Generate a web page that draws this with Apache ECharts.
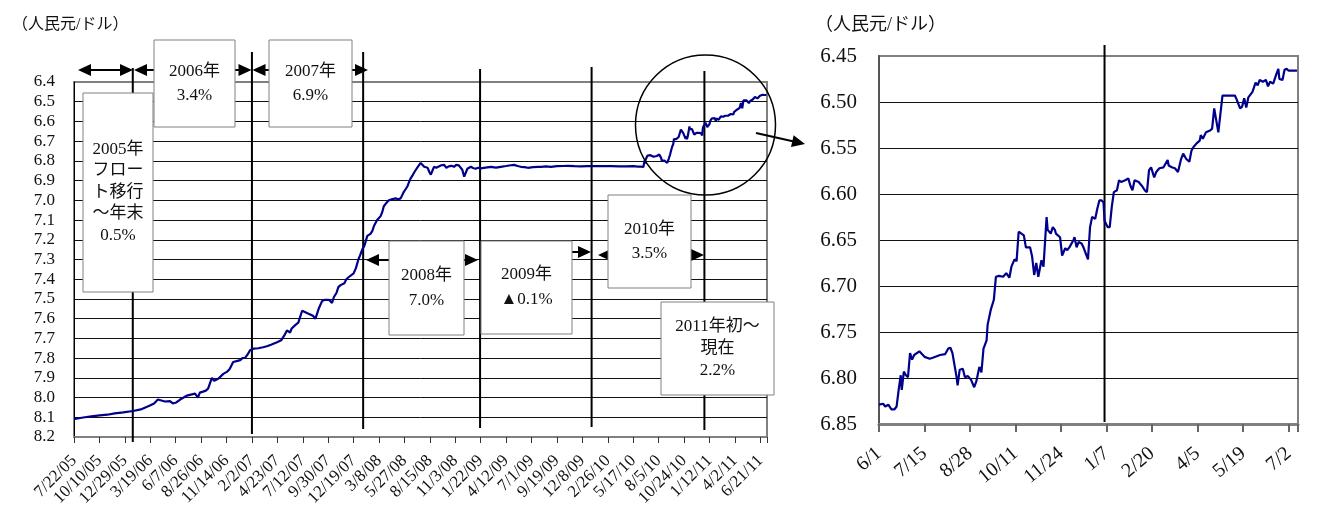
<!DOCTYPE html>
<html>
<head>
<meta charset="utf-8">
<script src="https://cdn.jsdelivr.net/npm/echarts@6/dist/echarts.min.js"></script>
<style>
html, body { margin: 0; padding: 0; background: #fff; }
#chart { width: 1327px; height: 511px; }
</style>
</head>
<body>
<div id="chart"></div>
<script>
// Axis tick labels: every 80 days from 2005-07-22 (wide) and every 44 days from 2010-06-01 (zoom)
const wideTicks = ['7/22/05','10/10/05','12/29/05','3/19/06','6/7/06','8/26/06','11/14/06','2/2/07',
  '4/23/07','7/12/07','9/30/07','12/19/07','3/8/08','5/27/08','8/15/08','11/3/08','1/22/09','4/12/09',
  '7/1/09','9/19/09','12/8/09','2/26/10','5/17/10','8/5/10','10/24/10','1/12/11','4/2/11','6/21/11'];
const zoomTicks = ['6/1','7/15','8/28','10/11','11/24','1/7','2/20','4/5','5/19','7/2'];

// Yuan per dollar, 2005-07-22 .. 2010-05-31 (days counted from 2005-07-22)
const wideDays = [0,15,34,55,81,105,128,155,186,210,239,252,264,275,286,302,311,322,334,345,355,368,381,386,390,396,
  406,415,422,434,441,447,454,460,470,481,490,501,512,523,530,539,547,554,565,580,595,607,620,639,652,662,670,675,
  680,685,690,698,706,712,718,725,731,738,744,752,760,770,781,788,794,803,812,818,826,832,839,845,851,857,864,870,
  880,887,895,900,907,914,923,928,933,939,944,950,954,960,965,970,975,982,991,1000,1012,1020,1028,1037,1043,1049,
  1055,1059,1065,1070,1076,1082,1091,1097,1102,1107,1113,1118,1123,1128,1133,1140,1148,1156,1165,1172,1179,1188,
  1196,1203,1211,1217,1222,1228,1233,1238,1249,1256,1264,1272,1280,1295,1312,1328,1343,1360,1375,1385,1396,1406,
  1418,1428,1445,1460,1470,1485,1501,1520,1540,1554,1575,1596,1615,1633,1660,1691,1715,1738,1760];
const wideRates = [8.110,8.105,8.100,8.095,8.090,8.087,8.080,8.075,8.068,8.060,8.040,8.030,8.010,8.015,8.020,8.018,
  8.030,8.025,8.010,8.000,7.990,7.985,7.980,7.970,8.000,7.975,7.970,7.965,7.955,7.900,7.915,7.910,7.905,7.900,7.880,
  7.870,7.855,7.820,7.815,7.810,7.800,7.798,7.780,7.760,7.752,7.750,7.745,7.740,7.732,7.720,7.710,7.685,7.660,7.665,
  7.670,7.650,7.640,7.630,7.620,7.590,7.560,7.565,7.570,7.575,7.570,7.585,7.600,7.550,7.510,7.505,7.510,7.505,7.520,
  7.490,7.470,7.440,7.430,7.425,7.420,7.400,7.390,7.395,7.370,7.345,7.300,7.280,7.250,7.230,7.180,7.185,7.170,7.155,
  7.130,7.120,7.100,7.095,7.080,7.060,7.030,7.015,7.000,6.995,6.990,6.995,6.990,6.960,6.945,6.930,6.905,6.890,6.875,
  6.860,6.845,6.830,6.810,6.820,6.830,6.840,6.835,6.855,6.870,6.850,6.830,6.835,6.828,6.822,6.820,6.835,6.828,6.825,
  6.830,6.820,6.823,6.830,6.845,6.880,6.875,6.840,6.830,6.836,6.840,6.835,6.838,6.834,6.830,6.834,6.830,6.826,6.822,
  6.820,6.826,6.830,6.832,6.835,6.832,6.830,6.830,6.828,6.830,6.827,6.826,6.825,6.827,6.828,6.827,6.827,6.826,6.827,
  6.828,6.828,6.827];

// Yuan per dollar, 2010-06-01 .. 2011-07-10 (days counted from 2010-06-01)
const zoomDays = [0,4,6,9,12,15,17,19,21,22,24,26,28,30,32,34,39,44,49,52,59,64,67,69,71,73,75,76,78,81,83,86,89,92,
  94,97,99,101,104,105,108,111,113,116,120,123,126,128,131,133,135,140,142,146,148,150,152,154,157,159,162,163,166,
  168,170,171,175,177,180,182,184,188,189,191,193,196,198,200,202,204,206,209,211,213,215,217,218,221,223,225,227,
  230,232,234,238,241,243,245,247,251,254,257,259,261,263,266,268,271,275,279,280,283,286,289,292,294,297,300,302,
  304,307,310,311,313,316,320,322,324,326,328,330,332,336,341,344,346,349,351,353,355,357,361,364,366,368,371,374,
  376,378,381,384,386,387,390,392,394,396,399,400,404];
const zoomRates = [6.829,6.828,6.831,6.829,6.834,6.834,6.831,6.813,6.797,6.813,6.793,6.797,6.799,6.773,6.780,6.775,
  6.771,6.777,6.779,6.778,6.775,6.774,6.768,6.767,6.773,6.786,6.799,6.808,6.791,6.790,6.799,6.798,6.802,6.810,6.804,
  6.788,6.794,6.768,6.759,6.742,6.726,6.715,6.690,6.689,6.690,6.686,6.691,6.679,6.671,6.673,6.641,6.645,6.658,6.658,
  6.668,6.688,6.675,6.690,6.672,6.679,6.625,6.639,6.643,6.636,6.639,6.643,6.647,6.667,6.659,6.661,6.658,6.650,6.647,
  6.658,6.652,6.654,6.659,6.665,6.671,6.636,6.625,6.627,6.616,6.607,6.607,6.609,6.629,6.636,6.636,6.614,6.598,6.596,
  6.585,6.587,6.585,6.583,6.591,6.596,6.585,6.587,6.591,6.596,6.598,6.574,6.571,6.582,6.576,6.572,6.571,6.563,6.569,
  6.571,6.572,6.576,6.562,6.556,6.562,6.565,6.553,6.549,6.545,6.542,6.536,6.540,6.533,6.531,6.529,6.507,6.520,6.533,
  6.513,6.493,6.493,6.493,6.493,6.498,6.507,6.505,6.496,6.506,6.495,6.489,6.479,6.482,6.476,6.478,6.476,6.483,6.478,
  6.480,6.470,6.464,6.475,6.476,6.465,6.464,6.466,6.466,6.465,6.466];

const zoomStartDay = 1775;             // 2010-06-01 counted from 2005-07-22
const wideLastDay = 2181;
const zoomLastDay = 405;
const yearLineDays = [185, 560, 910, 1278, 1629, 1984];   // markers between yearly periods
const zoomYearLineDay = 218;

const FONT = '"Liberation Serif", "Noto Sans CJK JP", serif';

const wideData = wideDays.map((d, i) => [d, wideRates[i]])
  .concat(zoomDays.map((d, i) => [d + zoomStartDay, zoomRates[i]]));
const zoomData = zoomDays.map((d, i) => [d, zoomRates[i]]);

const chart = echarts.init(document.getElementById('chart'), null, { renderer: 'canvas' });

chart.setOption({
  animation: false,
  backgroundColor: '#fff',
  grid: [
    { left: 74, top: 82, width: 693, height: 355, show: true, borderColor: '#808080', borderWidth: 2, backgroundColor: '#fff' },
    { left: 879, top: 56, width: 419, height: 368, show: true, borderColor: '#808080', borderWidth: 2, backgroundColor: '#fff' }
  ],
  xAxis: [
    {
      gridIndex: 0, type: 'value', min: 0, max: wideLastDay, interval: 80,
      axisLine: { show: true, lineStyle: { color: '#808080', width: 2 } },
      axisTick: { show: true, length: 6, lineStyle: { color: '#333' } },
      splitLine: { show: false },
      axisLabel: {
        rotate: 45, margin: 21, color: '#111', fontFamily: FONT, fontSize: 17,
        formatter: v => (v % 80 === 0 && wideTicks[v / 80]) ? wideTicks[v / 80] : ''
      }
    },
    {
      gridIndex: 1, type: 'value', min: 0, max: zoomLastDay, interval: 44,
      axisLine: { show: true, lineStyle: { color: '#808080', width: 3 } },
      axisTick: { show: true, length: 8, lineStyle: { color: '#666', width: 2 } },
      splitLine: { show: false },
      axisLabel: {
        rotate: 40, margin: 27, color: '#111', fontFamily: FONT, fontSize: 20,
        formatter: v => (v % 44 === 0 && zoomTicks[v / 44]) ? zoomTicks[v / 44] : ''
      }
    }
  ],
  yAxis: [
    {
      gridIndex: 0, type: 'value', inverse: true, min: 6.4, max: 8.2, interval: 0.1,
      axisLine: { show: true, lineStyle: { color: '#000', width: 1 } },
      axisTick: { show: false },
      splitLine: { show: true, showMinLine: false, showMaxLine: false, lineStyle: { color: '#111', width: 1 } },
      axisLabel: { margin: 19, color: '#111', fontFamily: FONT, fontSize: 17, formatter: v => v.toFixed(1) }
    },
    {
      gridIndex: 1, type: 'value', inverse: true, min: 6.45, max: 6.85, interval: 0.05,
      axisLine: { show: true, lineStyle: { color: '#555', width: 2 } },
      axisTick: { show: false },
      splitLine: { show: true, showMinLine: false, showMaxLine: false, lineStyle: { color: '#111', width: 1 } },
      axisLabel: { margin: 22, color: '#111', fontFamily: FONT, fontSize: 21, formatter: v => v.toFixed(2) }
    }
  ],
  series: [
    { type: 'line', xAxisIndex: 0, yAxisIndex: 0, data: wideData, showSymbol: false, z: 5,
      lineStyle: { color: '#00008b', width: 2.2 } },
    { type: 'line', xAxisIndex: 1, yAxisIndex: 1, data: zoomData, showSymbol: false, z: 5,
      lineStyle: { color: '#00008b', width: 2.2 } }
  ]
});

// ---- annotations ----
const px = (axis, d) => chart.convertToPixel({ xAxisIndex: axis }, d);
const g = [];

function vline(x, y1, y2) {
  g.push({ type: 'line', z: 3, shape: { x1: x, y1: y1, x2: x, y2: y2 }, style: { stroke: '#000', lineWidth: 2 } });
}
function head(tx, ty, ux, uy) {
  const L = 13, H = 6;
  const bx = tx - ux * L, by = ty - uy * L;
  g.push({ type: 'polygon', z: 12, shape: { points: [[tx, ty], [bx - uy * H, by + ux * H], [bx + uy * H, by - ux * H]] },
    style: { fill: '#000' } });
}
function arrow2(x1, x2, y) {
  g.push({ type: 'line', z: 11, shape: { x1: x1 + 4, y1: y, x2: x2 - 4, y2: y }, style: { stroke: '#000', lineWidth: 2 } });
  head(x1, y, -1, 0);
  head(x2, y, 1, 0);
}
function box(x1, y1, x2, y2, text, lh) {
  g.push({ type: 'rect', z: 20, shape: { x: x1, y: y1, width: x2 - x1, height: y2 - y1 },
    style: { fill: '#fff', stroke: '#808080', lineWidth: 1 } });
  g.push({ type: 'text', z: 21, x: (x1 + x2) / 2, y: (y1 + y2) / 2,
    style: { text: text, font: '17px ' + FONT, fill: '#111', align: 'center', verticalAlign: 'middle', lineHeight: lh } });
}

// year markers on the wide chart
const lineSpans = [[68, 442], [52, 434], [52, 429], [69, 428], [67, 427], [71, 430]];
yearLineDays.forEach((d, i) => vline(px(0, d), lineSpans[i][0], lineSpans[i][1]));
vline(px(1, zoomYearLineDay), 45, 422);

// period arrows
arrow2(78, 133, 70);
arrow2(134, 251.5, 70);
arrow2(252.5, 368, 70);
arrow2(366, 478, 260);
arrow2(481, 591, 252);
arrow2(598, 704, 255);

// period boxes
box(83, 93, 153, 292, '2005年\nフロー\nト移行\n～年末\n0.5%', 21.5);
box(154, 40, 235, 127, '2006年\n3.4%', 24);
box(269, 40, 352, 127, '2007年\n6.9%', 24);
box(389, 241, 464, 335, '2008年\n7.0%', 25);
box(481, 241, 572, 334, '2009年\n▲0.1%', 25);
box(608, 195, 691, 288, '2010年\n3.5%', 24);
box(661, 302, 774, 395, '2011年初～\n現在\n2.2%', 22);

// magnifier circle and pointer
g.push({ type: 'circle', z: 15, shape: { cx: 705.5, cy: 125, r: 70 }, style: { fill: 'none', stroke: '#000', lineWidth: 1.5 } });
(function () {
  const x1 = 756, y1 = 133, x2 = 805, y2 = 144;
  const len = Math.hypot(x2 - x1, y2 - y1), ux = (x2 - x1) / len, uy = (y2 - y1) / len;
  g.push({ type: 'line', z: 15, shape: { x1: x1, y1: y1, x2: x2 - ux * 8, y2: y2 - uy * 8 }, style: { stroke: '#000', lineWidth: 2 } });
  head(x2, y2, ux, uy);
})();

// unit captions
g.push({ type: 'text', z: 21, x: 12, y: 25, style: { text: '（人民元/ドル）', font: '16px ' + FONT, fill: '#111', verticalAlign: 'middle' } });
g.push({ type: 'text', z: 21, x: 815, y: 25, style: { text: '（人民元/ドル）', font: '18px ' + FONT, fill: '#111', verticalAlign: 'middle' } });

chart.setOption({ graphic: { elements: g } });
</script>
</body>
</html>
